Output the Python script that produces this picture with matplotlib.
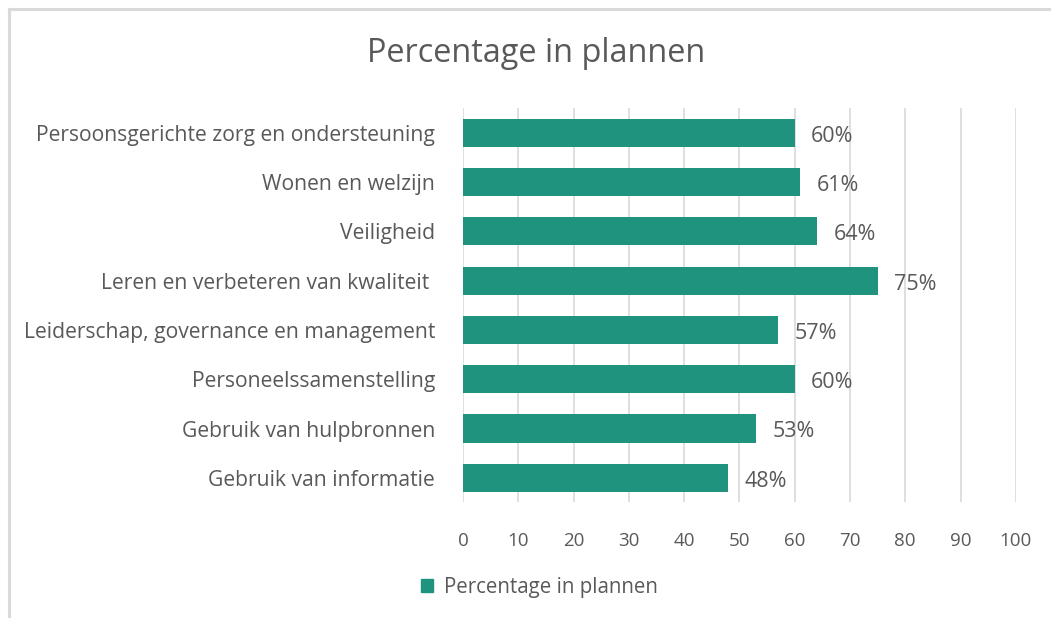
import matplotlib.pyplot as plt
from matplotlib.lines import Line2D
from matplotlib.patches import Patch

categories = ["Persoonsgerichte zorg en ondersteuning", "Wonen en welzijn", "Veiligheid",
              "Leren en verbeteren van kwaliteit ", "Leiderschap, governance en management",
              "Personeelssamenstelling", "Gebruik van hulpbronnen", "Gebruik van informatie"]
values = [60, 61, 64, 75, 57, 60, 53, 48]
xticks = [0, 10, 20, 30, 40, 50, 60, 70, 80, 90, 100]

teal = "#20937F"
grey = "#595959"
plt.rcParams['font.family'] = ['Open Sans', 'DejaVu Sans']

fig = plt.figure(figsize=(10.51, 6.18), dpi=100)
ax = fig.add_axes([0.4405, 0.187, 0.526, 0.638])

y = list(range(len(categories)))
ax.barh(y, values, height=0.57, color=teal, zorder=3)
for yi, v in zip(y, values):
    ax.text(v + 3.0, yi + 0.07, f"{v}%", va="center", ha="left", fontsize=15.5, color=grey)

ax.set_xlim(0, 100)
ax.set_ylim(len(categories) - 0.5, -0.5)
ax.set_yticks(y)
ax.set_yticklabels(categories, fontsize=15.2, color=grey)
ax.set_xticks(xticks)
ax.set_xticklabels([str(t) for t in xticks], fontsize=13.5, color=grey)
ax.tick_params(axis="y", length=0, pad=20)
ax.tick_params(axis="x", length=0, pad=21)
ax.grid(axis="x", color="#d9d9d9", linewidth=1.2, zorder=0)
for s in ax.spines.values():
    s.set_visible(False)

fig.text(0.51, 0.914, "Percentage in plannen", ha="center", va="center", fontsize=23.4, color=grey)

fig.legend(handles=[Patch(color=teal)], labels=["Percentage in plannen"],
           loc="center", bbox_to_anchor=(0.513, 0.05), frameon=False,
           fontsize=14.8, labelcolor=grey, handlelength=0.6, handleheight=0.6, handletextpad=0.5)

# light border on the left and top, as in the reference crop
fig.add_artist(Line2D([8.5 / 1051, 8.5 / 1051], [0, 1 - 8.5 / 618], color="#d9d9d9", linewidth=2.2))
fig.add_artist(Line2D([8.5 / 1051, 1], [1 - 8.5 / 618, 1 - 8.5 / 618], color="#d9d9d9", linewidth=2.2))

fig.savefig("out.png", dpi=100)
